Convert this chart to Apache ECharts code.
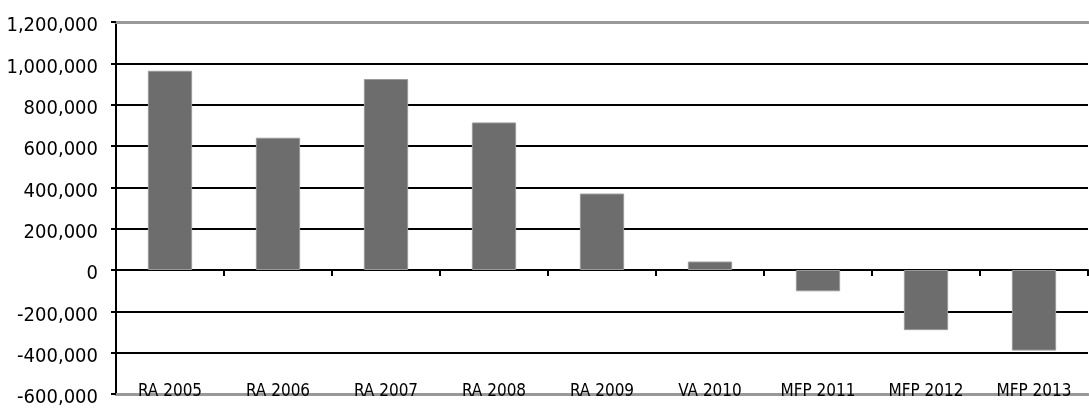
<!DOCTYPE html>
<html>
<head>
<meta charset="utf-8">
<script src="https://cdn.jsdelivr.net/npm/echarts@6/dist/echarts.min.js"></script>
<style>
  html, body { margin: 0; padding: 0; background: #fff; }
  #chart { width: 1089px; height: 408px; }
</style>
</head>
<body>
<div id="chart"></div>
<script>
// Budget balance by year
const categories = ['RA 2005', 'RA 2006', 'RA 2007', 'RA 2008', 'RA 2009', 'VA 2010', 'MFP 2011', 'MFP 2012', 'MFP 2013'];
const values = [964000, 640000, 924000, 714000, 370000, 41000, -103000, -291000, -390000];
const yMin = -600000;
const yMax = 1200000;
const yStep = 200000;

// condensed sans face for all text
const FONT = "'DejaVu Sans', sans-serif";
const STRETCH = 'condensed';

const chart = echarts.init(document.getElementById('chart'));

const fmt = v => v.toLocaleString('en-US');

chart.setOption({
  animation: false,
  backgroundColor: '#fff',
  grid: { left: 116, right: 1, top: 22, bottom: 12, containLabel: false },
  xAxis: [
    {
      // axis through zero with ticks between categories
      type: 'category',
      data: categories,
      boundaryGap: true,
      axisLine: { onZero: true, lineStyle: { color: '#000', width: 2 } },
      axisTick: { show: true, length: 6, inside: false, lineStyle: { color: '#000', width: 2 } },
      axisLabel: { show: false },
      splitLine: { show: false }
    },
    {
      // bottom edge carrying the category names
      type: 'category',
      data: categories,
      position: 'bottom',
      boundaryGap: true,
      axisLine: { onZero: false, lineStyle: { color: '#999', width: 3 } },
      axisTick: { show: false },
      axisLabel: {
        interval: 0,
        inside: true,
        margin: -6,
        color: '#000',
        fontFamily: FONT,
        fontStyle: STRETCH,
        fontSize: 17,
        verticalAlign: 'bottom'
      },
      splitLine: { show: false }
    },
    {
      // top edge of the plot
      type: 'category',
      data: categories,
      position: 'top',
      axisLine: { onZero: false, lineStyle: { color: '#999', width: 3 } },
      axisTick: { show: false },
      axisLabel: { show: false },
      splitLine: { show: false }
    }
  ],
  yAxis: {
    type: 'value',
    min: yMin,
    max: yMax,
    interval: yStep,
    axisLine: { show: true, onZero: false, lineStyle: { color: '#000', width: 2 } },
    axisTick: { show: true, length: 5, lineStyle: { color: '#000', width: 2 } },
    axisLabel: {
      margin: 18,
      color: '#000',
      fontFamily: FONT,
      fontStyle: STRETCH,
      fontSize: 20,
      // labels sit slightly below their grid line
      verticalAlign: 'top',
      lineHeight: 8,
      formatter: fmt
    },
    splitLine: { show: true, lineStyle: { color: '#000', width: 2 } }
  },
  series: [{
    type: 'bar',
    xAxisIndex: 0,
    data: values,
    barWidth: '41%',
    itemStyle: { color: '#6d6d6d', borderColor: '#9a9a9a', borderWidth: 1 }
  }]
});
</script>
</body>
</html>
